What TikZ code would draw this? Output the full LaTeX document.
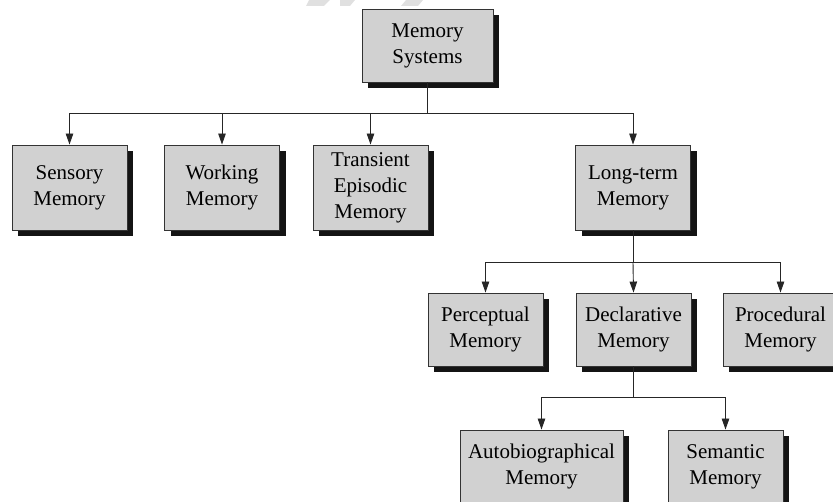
\documentclass[tikz,border=0pt]{standalone}
\usepackage{fontspec}
\setmainfont{Liberation Serif}
\usetikzlibrary{shadows,arrows.meta}
\tikzset{
  box/.style={draw=black!80, line width=0.9pt, fill=black!18, align=center, inner sep=0pt,
    font=\fontsize{21}{26}\selectfont,
    drop shadow={shadow xshift=6pt, shadow yshift=-6pt, fill=black!92, opacity=1}},
  link/.style={draw=black!85, line width=0.9pt},
  arr/.style={link, -{Triangle[length=11pt,width=7.5pt]}},
  wm/.style={fill=black!12, draw=none}
}
\begin{document}
\begin{tikzpicture}[x=1pt,y=-1pt]
\useasboundingbox (0,0) rectangle (833,502);
\clip (0,0) rectangle (833,502);
% faint watermark fragments
\fill[wm] (309,0) -- (330,0) -- (324,6) -- (306,6) -- cycle;
\fill[wm] (340,0) -- (355,0) -- (350,6) -- (340,6) -- cycle;
\fill[wm] (406,0) -- (423,0) -- (418,6) -- (401,6) -- cycle;
% nodes
\node[box, minimum width=131pt, minimum height=73pt] (sys) at (427.5,45.5) {Memory\\Systems};
\node[box, minimum width=115pt, minimum height=85pt] (sens) at (69.5,187.5) {Sensory\\Memory};
\node[box, minimum width=115pt, minimum height=85pt] (work) at (222,187.5) {Working\\Memory};
\node[box, minimum width=115pt, minimum height=85pt] (trans) at (370.5,187.5) {Transient\\Episodic\\Memory};
\node[box, minimum width=115pt, minimum height=85pt] (long) at (633,187.5) {Long-term\\Memory};
\node[box, minimum width=115pt, minimum height=73pt] (perc) at (485.5,329.5) {Perceptual\\Memory};
\node[box, minimum width=115pt, minimum height=73pt] (decl) at (633.5,329.5) {Declarative\\Memory};
\node[box, minimum width=115pt, minimum height=73pt] (proc) at (780.5,329.5) {Procedural\\Memory};
\node[box, minimum width=163pt, minimum height=73pt] (auto) at (541.5,466.5) {Autobiographical\\Memory};
\node[box, minimum width=115pt, minimum height=73pt] (sem) at (725.5,466.5) {Semantic\\Memory};
% junctions
\coordinate (j1) at (427.5,113);
\coordinate (j2) at (633,262);
\coordinate (j3) at (633.5,397);
% connectors
\draw[link] (sys.south) -- (j1);
\draw[arr] (j1) -| (sens.north);
\draw[arr] (j1) -| (work.north);
\draw[arr] (j1) -| (trans.north);
\draw[arr] (j1) -| (long.north);
\draw[link] (long.south) -- (j2);
\draw[arr] (j2) -| (perc.north);
\draw[arr] (j2) -- (decl.north);
\draw[arr] (j2) -| (proc.north);
\draw[link] (decl.south) -- (j3);
\draw[arr] (j3) -| (auto.north);
\draw[arr] (j3) -| (sem.north);
\end{tikzpicture}
\end{document}
